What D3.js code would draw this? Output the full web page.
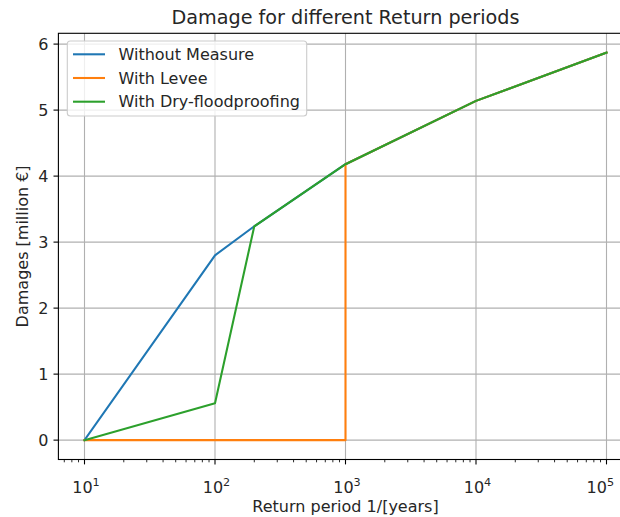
<!DOCTYPE html>
<html>
<head>
<meta charset="utf-8">
<script src="https://cdn.jsdelivr.net/npm/d3@7"></script>
<style>
  html, body { margin: 0; padding: 0; background: #fff; overflow: hidden; }
  svg { display: block; font-family: "DejaVu Sans", sans-serif; }
</style>
</head>
<body>
<svg id="chart" width="620" height="517"></svg>
<script>
// Return periods (years) and damages (million €)
const returnPeriods = [10, 100, 200, 1000, 10000, 100000];
const damageWithout = [0, 2.80, 3.24, 4.18, 5.14, 5.87];
const leveePeriods = [10, 100, 200, 1000, 1000, 10000, 100000];
const damageLevee = [0, 0, 0, 0, 4.18, 5.14, 5.87];
const damageDryProof = [0, 0.56, 3.24, 4.18, 5.14, 5.87];

const seriesNames = ["Without Measure", "With Levee", "With Dry-floodproofing"];
const seriesColors = ["#1f77b4", "#ff7f0e", "#2ca02c"];
const xTickExponents = [1, 2, 3, 4, 5];
const yTickValues = [0, 1, 2, 3, 4, 5, 6];

const titleText = "Damage for different Return periods";
const xLabelText = "Return period 1/[years]";
const yLabelText = "Damages [million €]";

const series = [
  { name: seriesNames[0], color: seriesColors[0], x: returnPeriods, y: damageWithout },
  { name: seriesNames[1], color: seriesColors[1], x: leveePeriods, y: damageLevee },
  { name: seriesNames[2], color: seriesColors[2], x: returnPeriods, y: damageDryProof }
];

const svg = d3.select("#chart");
const width = 620;
const plot = { left: 58.4, right: 632.6, top: 33.3, bottom: 459.5 };

// Axis limits with 5% padding (log padding on x)
const allX = series.flatMap(s => s.x);
const allY = series.flatMap(s => s.y);
const lx0 = Math.log10(d3.min(allX)), lx1 = Math.log10(d3.max(allX));
const lpad = (lx1 - lx0) * 0.05;
const y0 = d3.min(allY), y1 = d3.max(allY);
const ypad = (y1 - y0) * 0.05;

const x = d3.scaleLog()
  .domain([Math.pow(10, lx0 - lpad), Math.pow(10, lx1 + lpad)])
  .range([plot.left, plot.right]);
const y = d3.scaleLinear()
  .domain([y0 - ypad, y1 + ypad])
  .range([plot.bottom, plot.top]);

const gridColor = "#b0b0b0";
const textColor = "#262626";
const fontSize = 16;
const titleSize = 19.2;

// Grid lines
const grid = svg.append("g");
xTickExponents.forEach(e => {
  const xv = x(Math.pow(10, e));
  grid.append("line")
    .attr("x1", xv).attr("x2", xv)
    .attr("y1", plot.top).attr("y2", plot.bottom)
    .attr("stroke", gridColor).attr("stroke-width", 1.1);
});
yTickValues.forEach(v => {
  const yv = y(v);
  grid.append("line")
    .attr("x1", plot.left).attr("x2", plot.right)
    .attr("y1", yv).attr("y2", yv)
    .attr("stroke", gridColor).attr("stroke-width", 1.1);
});

// Data lines
const line = d3.line().x(d => x(d[0])).y(d => y(d[1]));
series.forEach(s => {
  svg.append("path")
    .datum(s.x.map((xv, i) => [xv, s.y[i]]))
    .attr("d", line)
    .attr("fill", "none")
    .attr("stroke", s.color)
    .attr("stroke-width", 2.08)
    .attr("stroke-linejoin", "round")
    .attr("stroke-linecap", "square");
});

// Spines
svg.append("rect")
  .attr("x", plot.left).attr("y", plot.top)
  .attr("width", plot.right - plot.left).attr("height", plot.bottom - plot.top)
  .attr("fill", "none").attr("stroke", "#000").attr("stroke-width", 1.1);

// X axis: major ticks with 10^n labels, plus minor ticks
const xAxis = svg.append("g");
const [dx0, dx1] = x.domain();
for (let e = Math.floor(Math.log10(dx0)); e <= Math.ceil(Math.log10(dx1)); e++) {
  for (let m = 2; m <= 9; m++) {
    const v = m * Math.pow(10, e);
    if (v < dx0 || v > dx1) continue;
    xAxis.append("line")
      .attr("x1", x(v)).attr("x2", x(v))
      .attr("y1", plot.bottom).attr("y2", plot.bottom + 2.8)
      .attr("stroke", "#000").attr("stroke-width", 0.84);
  }
}
xTickExponents.forEach(e => {
  const xv = x(Math.pow(10, e));
  xAxis.append("line")
    .attr("x1", xv).attr("x2", xv)
    .attr("y1", plot.bottom).attr("y2", plot.bottom + 4.9)
    .attr("stroke", "#000").attr("stroke-width", 1.1);
  const t = xAxis.append("text")
    .attr("x", xv + 1.5).attr("y", plot.bottom + 33)
    .attr("text-anchor", "middle")
    .attr("font-size", fontSize)
    .attr("fill", textColor);
  t.append("tspan").text("10");
  t.append("tspan").attr("dy", -7).attr("font-size", fontSize * 0.7).text(e);
  // keep the last label inside the canvas
  const bb = t.node().getBBox();
  const overflow = bb.x + bb.width - (width - 6);
  if (overflow > 0) t.attr("x", xv + 1.5 - overflow);
});

// Y axis
const yAxis = svg.append("g");
yTickValues.forEach(v => {
  const yv = y(v);
  yAxis.append("line")
    .attr("x1", plot.left - 4.9).attr("x2", plot.left)
    .attr("y1", yv).attr("y2", yv)
    .attr("stroke", "#000").attr("stroke-width", 1.1);
  yAxis.append("text")
    .attr("x", plot.left - 10).attr("y", yv)
    .attr("dy", "0.36em")
    .attr("text-anchor", "end")
    .attr("font-size", fontSize)
    .attr("fill", textColor)
    .text(v);
});

// Title and axis labels
svg.append("text")
  .attr("x", (plot.left + plot.right) / 2).attr("y", 24)
  .attr("text-anchor", "middle")
  .attr("font-size", titleSize)
  .attr("fill", textColor)
  .text(titleText);

svg.append("text")
  .attr("x", (plot.left + plot.right) / 2).attr("y", 512)
  .attr("text-anchor", "middle")
  .attr("font-size", fontSize)
  .attr("fill", textColor)
  .text(xLabelText);

svg.append("text")
  .attr("transform", `translate(28,${(plot.top + plot.bottom) / 2}) rotate(-90)`)
  .attr("text-anchor", "middle")
  .attr("font-size", fontSize)
  .attr("fill", textColor)
  .text(yLabelText);

// Legend
const legend = svg.append("g");
legend.append("rect")
  .attr("x", 67.3).attr("y", 41)
  .attr("width", 239.4).attr("height", 75)
  .attr("rx", 3).attr("ry", 3)
  .attr("fill", "#fff").attr("fill-opacity", 0.8)
  .attr("stroke", "#cccccc").attr("stroke-width", 1.1);
series.forEach((s, i) => {
  const ly = 54.3 + i * 23.7;
  legend.append("line")
    .attr("x1", 73).attr("x2", 105)
    .attr("y1", ly).attr("y2", ly)
    .attr("stroke", s.color).attr("stroke-width", 2.08);
  legend.append("text")
    .attr("x", 118.5).attr("y", ly)
    .attr("dy", "0.36em")
    .attr("font-size", fontSize)
    .attr("fill", textColor)
    .text(s.name);
});
</script>
</body>
</html>
